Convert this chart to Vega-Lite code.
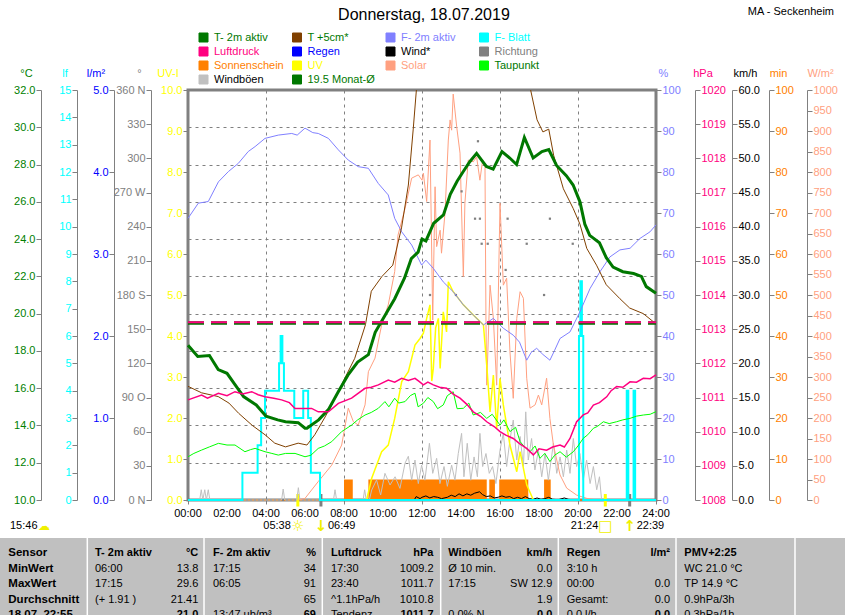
{
"$schema": "https://vega.github.io/schema/vega-lite/v6.json",
"width": 468, "height": 410,
"autosize": "none",
"padding": {"left": 188, "top": 90, "right": 189, "bottom": 115},
"background": "white",
"config": {
  "font": "Liberation Sans",
  "view": {"stroke": "#808080", "strokeWidth": 3},
  "axis": {"labelFont": "Liberation Sans", "labelFontSize": 11, "titleFont": "Liberation Sans", "titleFontSize": 11, "titleFontWeight": "normal", "domainColor": "#808080", "tickColor": "#808080", "tickSize": 5, "labelPadding": 1, "grid": false, "labelFlush": false, "labelOverlap": false, "domainWidth": 1, "tickWidth": 1},
  "axisX": {"labelOverlap": false, "labelFlush": false, "labelBound": false, "labels": false},
  "axisY": {"titleAngle": 0, "titleAlign": "center", "titleBaseline": "middle", "titleY": -17, "labelBaseline": "middle"},
  "text": {"font": "Liberation Sans"}
},
"datasets": {
  "t2m": [{"h":0,"v":18.3},{"h":0.5,"v":17.7},{"h":1.1,"v":17.75},{"h":1.55,"v":17.0},{"h":2.0,"v":16.8},{"h":2.4,"v":16.2},{"h":2.85,"v":15.55},{"h":3.5,"v":15.1},{"h":4.0,"v":14.5},{"h":4.6,"v":14.3},{"h":5.0,"v":14.2},{"h":5.65,"v":14.15},{"h":6.0,"v":13.85},{"h":6.1,"v":13.85},{"h":6.7,"v":14.3},{"h":7.2,"v":14.85},{"h":7.7,"v":15.8},{"h":8.2,"v":16.7},{"h":8.7,"v":17.4},{"h":9.25,"v":17.8},{"h":9.6,"v":19.0},{"h":10.1,"v":19.9},{"h":10.6,"v":20.8},{"h":11.1,"v":21.9},{"h":11.45,"v":22.95},{"h":11.8,"v":23.3},{"h":12.0,"v":24.0},{"h":12.2,"v":23.9},{"h":12.6,"v":24.85},{"h":13.1,"v":25.3},{"h":13.45,"v":26.4},{"h":13.8,"v":27.1},{"h":14.1,"v":27.6},{"h":14.45,"v":28.15},{"h":14.8,"v":28.6},{"h":15.3,"v":27.9},{"h":15.65,"v":27.75},{"h":16.1,"v":28.7},{"h":16.5,"v":28.35},{"h":16.85,"v":28.0},{"h":17.25,"v":29.45},{"h":17.7,"v":28.35},{"h":18.15,"v":28.7},{"h":18.5,"v":28.8},{"h":18.9,"v":27.95},{"h":19.4,"v":27.4},{"h":19.75,"v":26.9},{"h":20.1,"v":26.0},{"h":20.35,"v":24.8},{"h":20.6,"v":24.2},{"h":21.1,"v":23.8},{"h":21.45,"v":23.0},{"h":21.8,"v":22.5},{"h":22.3,"v":22.25},{"h":22.85,"v":22.15},{"h":23.25,"v":22.0},{"h":23.5,"v":21.45},{"h":24.0,"v":21.1}],
  "t5": [{"h":0,"v":16.1},{"h":0.7,"v":15.75},{"h":1.55,"v":15.55},{"h":2.1,"v":15.2},{"h":2.6,"v":14.65},{"h":3.3,"v":14.0},{"h":3.95,"v":13.5},{"h":4.45,"v":13.05},{"h":5.0,"v":12.85},{"h":5.65,"v":13.05},{"h":6.1,"v":12.95},{"h":6.5,"v":13.5},{"h":7.0,"v":14.4},{"h":7.55,"v":15.45},{"h":8.05,"v":16.55},{"h":8.55,"v":17.6},{"h":9.1,"v":19.4},{"h":9.4,"v":21.2},{"h":9.95,"v":22.0},{"h":10.5,"v":22.6},{"h":10.95,"v":24.6},{"h":11.3,"v":26.9},{"h":11.55,"v":29.9},{"h":11.75,"v":32.5},{"h":12.5,"v":36},{"h":14,"v":40},{"h":15.5,"v":40},{"h":17.0,"v":35},{"h":17.55,"v":32.1},{"h":17.9,"v":30.4},{"h":18.2,"v":29.75},{"h":18.5,"v":29.9},{"h":18.75,"v":28.5},{"h":19.25,"v":26.7},{"h":19.75,"v":25.65},{"h":20.1,"v":24.8},{"h":20.45,"v":23.5},{"h":20.95,"v":22.6},{"h":21.45,"v":21.55},{"h":22.15,"v":20.8},{"h":22.65,"v":20.3},{"h":23.35,"v":20.0},{"h":24.0,"v":19.45}],
  "dew": [{"h":0,"v":12.32},{"h":0.3,"v":12.5},{"h":0.7,"v":12.68},{"h":1.1,"v":12.85},{"h":1.56,"v":13.04},{"h":2.0,"v":12.95},{"h":2.41,"v":12.95},{"h":2.92,"v":12.59},{"h":3.2,"v":12.7},{"h":3.44,"v":12.77},{"h":3.95,"v":12.59},{"h":4.3,"v":12.5},{"h":4.63,"v":12.41},{"h":5.0,"v":12.5},{"h":5.49,"v":12.5},{"h":6.0,"v":12.32},{"h":6.3,"v":12.4},{"h":6.68,"v":12.77},{"h":7.0,"v":12.9},{"h":7.37,"v":13.13},{"h":7.88,"v":13.67},{"h":8.39,"v":14.02},{"h":8.7,"v":14.3},{"h":9.08,"v":14.56},{"h":9.4,"v":14.7},{"h":9.76,"v":14.92},{"h":10.1,"v":15.28},{"h":10.3,"v":15.0},{"h":10.6,"v":15.46},{"h":10.8,"v":15.2},{"h":11.13,"v":15.28},{"h":11.4,"v":15.6},{"h":11.64,"v":15.73},{"h":11.8,"v":15.0},{"h":12.07,"v":15.19},{"h":12.3,"v":15.5},{"h":12.58,"v":15.28},{"h":12.8,"v":14.9},{"h":13.09,"v":15.1},{"h":13.3,"v":15.6},{"h":13.6,"v":15.81},{"h":13.8,"v":14.9},{"h":14.12,"v":14.92},{"h":14.4,"v":15.2},{"h":14.63,"v":14.56},{"h":15.0,"v":14.7},{"h":15.32,"v":14.38},{"h":15.6,"v":14.6},{"h":16.0,"v":14.02},{"h":16.2,"v":14.3},{"h":16.51,"v":13.67},{"h":16.8,"v":13.9},{"h":17.03,"v":13.13},{"h":17.3,"v":12.8},{"h":17.54,"v":12.59},{"h":17.8,"v":12.9},{"h":18.05,"v":12.24},{"h":18.3,"v":12.5},{"h":18.56,"v":12.06},{"h":18.8,"v":12.4},{"h":19.08,"v":12.59},{"h":19.4,"v":12.3},{"h":19.76,"v":12.59},{"h":20.0,"v":12.9},{"h":20.27,"v":13.31},{"h":20.5,"v":13.5},{"h":20.79,"v":13.85},{"h":21.0,"v":13.95},{"h":21.3,"v":14.2},{"h":21.6,"v":14.1},{"h":21.98,"v":14.2},{"h":22.3,"v":14.3},{"h":22.67,"v":14.38},{"h":23.0,"v":14.5},{"h":23.35,"v":14.56},{"h":23.7,"v":14.6},{"h":24,"v":14.74}],
  "tavg": [{"h":0,"v":19.5},{"h":24,"v":19.5}],
  "pavg": [{"h":0,"v":1013.2},{"h":24,"v":1013.2}],
  "rain": [{"h":0,"v":0},{"h":24,"v":0}],
  "sun0": [{"h":0,"v":0},{"h":24,"v":0}],
  "hours": [{"h":0,"lab":"00:00"},{"h":2,"lab":"02:00"},{"h":4,"lab":"04:00"},{"h":6,"lab":"06:00"},{"h":8,"lab":"08:00"},{"h":10,"lab":"10:00"},{"h":12,"lab":"12:00"},{"h":14,"lab":"14:00"},{"h":16,"lab":"16:00"},{"h":18,"lab":"18:00"},{"h":20,"lab":"20:00"},{"h":22,"lab":"22:00"},{"h":24,"lab":"24:00"}],
  "rh": [{"h":0,"v":68.7},{"h":0.53,"v":72.4},{"h":1.04,"v":72.8},{"h":1.56,"v":77.6},{"h":2.07,"v":80.1},{"h":2.58,"v":82.1},{"h":3.09,"v":85},{"h":3.44,"v":86.2},{"h":3.95,"v":88.2},{"h":4.63,"v":89},{"h":5.32,"v":89.4},{"h":5.6,"v":89.0},{"h":6.0,"v":90.7},{"h":6.4,"v":89.6},{"h":6.68,"v":89.4},{"h":7.2,"v":88.2},{"h":7.71,"v":85.4},{"h":8.22,"v":82.9},{"h":8.73,"v":81.3},{"h":9.25,"v":80.9},{"h":9.76,"v":77.2},{"h":10.27,"v":74.4},{"h":10.6,"v":68.7},{"h":10.96,"v":65.4},{"h":11.47,"v":62.2},{"h":11.7,"v":60},{"h":11.98,"v":57.3},{"h":12.2,"v":58.5},{"h":12.58,"v":56.5},{"h":13.09,"v":53.2},{"h":13.6,"v":50.8},{"h":14.12,"v":47.6},{"h":14.63,"v":45.1},{"h":15.15,"v":42.7},{"h":15.66,"v":44.3},{"h":16.17,"v":41.9},{"h":16.68,"v":40.2},{"h":17.0,"v":38.5},{"h":17.37,"v":34.1},{"h":17.6,"v":36},{"h":17.88,"v":37},{"h":18.2,"v":35.5},{"h":18.56,"v":34.1},{"h":18.8,"v":36.5},{"h":19.08,"v":39.4},{"h":19.59,"v":41},{"h":20.1,"v":45.9},{"h":20.62,"v":51.6},{"h":21.13,"v":55.7},{"h":21.64,"v":59.3},{"h":22.15,"v":61},{"h":22.67,"v":61.4},{"h":23.18,"v":63.8},{"h":23.69,"v":65.4},{"h":24,"v":67.1}],
  "leaf": [{"h":0,"v":0},{"h":2.79,"v":1},{"h":3.57,"v":2},{"h":3.75,"v":3},{"h":3.95,"v":4},{"h":4.67,"v":5},{"h":4.75,"v":6},{"h":4.84,"v":5},{"h":4.92,"v":4},{"h":5.45,"v":3},{"h":5.91,"v":4},{"h":6.16,"v":3},{"h":6.3,"v":1},{"h":6.77,"v":0},{"h":20.05,"v":6},{"h":20.12,"v":8},{"h":20.2,"v":6},{"h":20.27,"v":0},{"h":22.5,"v":4},{"h":22.58,"v":0},{"h":22.85,"v":4},{"h":22.93,"v":0},{"h":24,"v":0}],
  "press": [{"h":0,"v":1010.93},{"h":0.7,"v":1011.07},{"h":1.0,"v":1010.98},{"h":1.56,"v":1011.12},{"h":2.0,"v":1011.05},{"h":2.41,"v":1011.17},{"h":2.8,"v":1011.1},{"h":3.27,"v":1011.17},{"h":3.6,"v":1011.08},{"h":3.95,"v":1011.02},{"h":4.4,"v":1010.98},{"h":4.8,"v":1010.93},{"h":5.2,"v":1010.85},{"h":5.49,"v":1010.68},{"h":6.34,"v":1010.68},{"h":6.68,"v":1010.58},{"h":7.2,"v":1010.58},{"h":7.71,"v":1010.83},{"h":8.39,"v":1010.98},{"h":9.08,"v":1011.27},{"h":9.4,"v":1011.3},{"h":9.76,"v":1011.37},{"h":10.27,"v":1011.51},{"h":10.6,"v":1011.45},{"h":10.96,"v":1011.56},{"h":11.3,"v":1011.5},{"h":11.64,"v":1011.56},{"h":11.85,"v":1011.47},{"h":12.07,"v":1011.37},{"h":12.3,"v":1011.45},{"h":12.58,"v":1011.37},{"h":12.9,"v":1011.3},{"h":13.26,"v":1011.27},{"h":13.6,"v":1011.1},{"h":13.95,"v":1010.98},{"h":14.3,"v":1010.8},{"h":14.63,"v":1010.58},{"h":15.0,"v":1010.45},{"h":15.32,"v":1010.29},{"h":15.7,"v":1010.15},{"h":16.0,"v":1010.0},{"h":16.3,"v":1009.9},{"h":16.68,"v":1009.8},{"h":17.0,"v":1009.65},{"h":17.37,"v":1009.51},{"h":17.71,"v":1009.32},{"h":18.0,"v":1009.5},{"h":18.39,"v":1009.46},{"h":18.7,"v":1009.55},{"h":19.08,"v":1009.61},{"h":19.3,"v":1009.55},{"h":19.59,"v":1009.8},{"h":19.93,"v":1010.29},{"h":20.27,"v":1010.49},{"h":20.5,"v":1010.55},{"h":20.79,"v":1010.78},{"h":21.1,"v":1010.85},{"h":21.47,"v":1011.02},{"h":21.7,"v":1011.2},{"h":21.98,"v":1011.32},{"h":22.3,"v":1011.3},{"h":22.67,"v":1011.46},{"h":23.0,"v":1011.45},{"h":23.35,"v":1011.56},{"h":23.7,"v":1011.55},{"h":24,"v":1011.66}],
  "gust": [{"h":0.6,"v":0},{"h":0.68,"v":1.5},{"h":0.76,"v":0},{"h":0.86,"v":1.5},{"h":0.94,"v":0},{"h":1.04,"v":1.5},{"h":1.12,"v":0},{"h":4.8,"v":0},{"h":4.88,"v":1.6},{"h":4.96,"v":0},{"h":5.58,"v":0},{"h":5.66,"v":1.8},{"h":5.74,"v":0},{"h":7.46,"v":0},{"h":7.54,"v":1.5},{"h":7.62,"v":0},{"h":8.98,"v":0},{"h":9.06,"v":1.5},{"h":9.14,"v":0},{"h":9.3,"v":0},{"h":9.42,"v":1.46},{"h":9.67,"v":2.93},{"h":9.88,"v":0.73},{"h":10.1,"v":3.9},{"h":10.36,"v":2.2},{"h":10.62,"v":3.4},{"h":10.87,"v":1.7},{"h":11.13,"v":5.4},{"h":11.3,"v":6.4},{"h":11.47,"v":2.9},{"h":11.64,"v":5.85},{"h":11.81,"v":2.4},{"h":11.98,"v":5.1},{"h":12.15,"v":2.9},{"h":12.38,"v":8.3},{"h":12.55,"v":3.9},{"h":12.75,"v":6.1},{"h":12.92,"v":2.4},{"h":13.13,"v":4.9},{"h":13.3,"v":2.0},{"h":13.52,"v":5.1},{"h":13.69,"v":2.9},{"h":13.86,"v":6.8},{"h":14.03,"v":9.75},{"h":14.15,"v":3.4},{"h":14.32,"v":8.3},{"h":14.5,"v":2.9},{"h":14.67,"v":6.3},{"h":14.84,"v":3.4},{"h":14.97,"v":9.75},{"h":15.11,"v":4.9},{"h":15.28,"v":6.8},{"h":15.45,"v":3.9},{"h":15.62,"v":4.9},{"h":15.79,"v":2.4},{"h":16.0,"v":7.3},{"h":16.17,"v":9.75},{"h":16.34,"v":4.9},{"h":16.51,"v":8.8},{"h":16.68,"v":11.7},{"h":16.86,"v":5.85},{"h":17.03,"v":9.3},{"h":17.2,"v":4.9},{"h":17.32,"v":12.9},{"h":17.45,"v":5.85},{"h":17.62,"v":9.0},{"h":17.79,"v":4.4},{"h":17.97,"v":7.3},{"h":18.14,"v":3.4},{"h":18.31,"v":6.8},{"h":18.48,"v":2.9},{"h":18.74,"v":8.3},{"h":18.91,"v":3.9},{"h":19.08,"v":6.3},{"h":19.25,"v":3.4},{"h":19.42,"v":7.3},{"h":19.59,"v":3.9},{"h":19.76,"v":9.0},{"h":19.93,"v":4.9},{"h":20.1,"v":6.8},{"h":20.27,"v":2.9},{"h":20.44,"v":5.85},{"h":20.62,"v":2.4},{"h":20.79,"v":4.9},{"h":20.96,"v":1.5},{"h":21.1,"v":3.4},{"h":21.21,"v":0}],
  "wind": [{"h":11.6,"v":0},{"h":11.7,"v":0.5},{"h":11.9,"v":0.2},{"h":12.0,"v":0.4},{"h":12.2,"v":0.6},{"h":12.4,"v":0.3},{"h":12.6,"v":0.5},{"h":12.8,"v":0.4},{"h":13.0,"v":0.2},{"h":13.3,"v":0.4},{"h":13.5,"v":0.7},{"h":13.7,"v":0.5},{"h":13.9,"v":0.9},{"h":14.1,"v":0.6},{"h":14.3,"v":0.9},{"h":14.5,"v":0.7},{"h":14.7,"v":1.0},{"h":14.95,"v":1.2},{"h":15.1,"v":0.8},{"h":15.3,"v":0.5},{"h":15.5,"v":0.6},{"h":15.7,"v":0.3},{"h":15.9,"v":0.4},{"h":16.1,"v":0.6},{"h":16.3,"v":0.4},{"h":16.5,"v":0.5},{"h":16.7,"v":0.2},{"h":16.9,"v":0.4},{"h":17.1,"v":0.2},{"h":17.3,"v":0.5},{"h":17.5,"v":0.2},{"h":17.7,"v":0.1},{"h":17.9,"v":0.3},{"h":18.1,"v":0.1},{"h":18.3,"v":0.2},{"h":18.5,"v":0.4},{"h":18.7,"v":0.1},{"h":19.0,"v":0.05},{"h":19.3,"v":0.3},{"h":19.5,"v":0.1},{"h":19.8,"v":0}],
  "dir": [{"h":14.87,"v":315},{"h":14.03,"v":271},{"h":14.72,"v":247},{"h":14.97,"v":247},{"h":16.39,"v":247},{"h":18.56,"v":247},{"h":15.06,"v":225},{"h":15.37,"v":225},{"h":17.37,"v":225},{"h":19.73,"v":225},{"h":16.29,"v":202},{"h":12.41,"v":180},{"h":13.74,"v":180},{"h":18.26,"v":180}],
  "uv": [{"h":9.16,"v":0},{"h":9.42,"v":0.53},{"h":9.93,"v":1.18},{"h":10.27,"v":1.34},{"h":10.6,"v":1.99},{"h":10.96,"v":2.89},{"h":11.3,"v":3.13},{"h":11.64,"v":3.78},{"h":11.9,"v":3.94},{"h":12.07,"v":4.07},{"h":12.24,"v":4.43},{"h":12.41,"v":4.76},{"h":12.5,"v":2.9},{"h":12.58,"v":3.21},{"h":12.7,"v":4.2},{"h":12.84,"v":4.43},{"h":12.93,"v":3.21},{"h":13.09,"v":4.59},{"h":13.26,"v":4.1},{"h":13.35,"v":5.32},{"h":13.6,"v":5.08},{"h":14.12,"v":4.76},{"h":14.63,"v":4.51},{"h":15.15,"v":4.27},{"h":15.32,"v":3.29},{"h":15.49,"v":2.15},{"h":15.66,"v":3.05},{"h":15.83,"v":1.75},{"h":16.0,"v":2.97},{"h":16.17,"v":2.32},{"h":16.51,"v":1.34},{"h":16.86,"v":0.69},{"h":17.03,"v":1.18},{"h":17.37,"v":0.37},{"h":17.71,"v":0}],
  "solar": [{"h":5.66,"v":0},{"h":6.0,"v":4},{"h":6.68,"v":45},{"h":7.37,"v":85},{"h":7.88,"v":134},{"h":8.22,"v":224},{"h":8.48,"v":191},{"h":8.73,"v":183},{"h":9.08,"v":232},{"h":9.25,"v":313},{"h":9.59,"v":346},{"h":9.93,"v":427},{"h":10.27,"v":476},{"h":10.6,"v":557},{"h":10.77,"v":646},{"h":11.13,"v":711},{"h":11.47,"v":785},{"h":11.81,"v":793},{"h":12.0,"v":780},{"h":12.07,"v":797},{"h":12.24,"v":728},{"h":12.41,"v":878},{"h":12.55,"v":439},{"h":12.67,"v":764},{"h":12.75,"v":618},{"h":12.93,"v":658},{"h":13.0,"v":602},{"h":13.18,"v":700},{"h":13.35,"v":878},{"h":13.44,"v":927},{"h":13.52,"v":902},{"h":13.6,"v":990},{"h":13.78,"v":910},{"h":13.95,"v":846},{"h":14.12,"v":545},{"h":14.2,"v":724},{"h":14.37,"v":829},{"h":14.63,"v":825},{"h":14.8,"v":837},{"h":14.97,"v":780},{"h":15.11,"v":829},{"h":15.23,"v":815},{"h":15.28,"v":439},{"h":15.32,"v":280},{"h":15.49,"v":524},{"h":15.66,"v":443},{"h":15.83,"v":280},{"h":16.0,"v":724},{"h":16.17,"v":524},{"h":16.34,"v":541},{"h":16.51,"v":362},{"h":16.68,"v":248},{"h":16.86,"v":443},{"h":17.03,"v":508},{"h":17.2,"v":492},{"h":17.37,"v":297},{"h":17.54,"v":224},{"h":17.8,"v":232},{"h":17.97,"v":256},{"h":18.14,"v":232},{"h":18.39,"v":297},{"h":18.56,"v":199},{"h":18.74,"v":134},{"h":19.08,"v":61},{"h":19.42,"v":29},{"h":19.93,"v":12},{"h":20.45,"v":4},{"h":20.96,"v":0}],
  "sun": [{"s":8.0,"e":8.45,"v":5},{"s":9.25,"e":15.32,"v":5},{"s":15.45,"e":15.74,"v":5},{"s":15.96,"e":17.45,"v":5},{"s":18.26,"e":18.6,"v":5}],
  "table": [
    {"r":0,"c0":"Sensor","t1":"T- 2m aktiv","t2":"°C","f1":"F- 2m aktiv","f2":"%","l1":"Luftdruck","l2":"hPa","w1":"Windböen","w2":"km/h","g1":"Regen","g2":"l/m²","p1":"PMV+2:25"},
    {"r":1,"c0":"MinWert","t1":"\u00a0\u00a006:00","t2":"13.8","f1":"\u00a0\u00a017:15","f2":"34","l1":"17:30","l2":"1009.2","w1":"Ø 10 min.","w2":"0.0","g1":"3:10 h","g2":"","p1":"WC 21.0 °C"},
    {"r":2,"c0":"MaxWert","t1":"\u00a0\u00a017:15","t2":"29.6","f1":"\u00a0\u00a006:05","f2":"91","l1":"23:40","l2":"1011.7","w1":"\u00a0\u00a017:15","w2":"SW 12.9","g1":"\u00a0\u00a000:00","g2":"0.0","p1":"TP 14.9 °C"},
    {"r":3,"c0":"Durchschnitt","t1":"\u00a0\u00a0(+ 1.91 )","t2":"21.41","f1":"","f2":"65","l1":"^1.1hPa/h","l2":"1010.8","w1":"","w2":"1.9","g1":"Gesamt:","g2":"0.0","p1":"0.9hPa/3h"},
    {"r":4,"c0":"18.07. 22:55","t1":"","t2":"21.0","f1":"\u00a0\u00a013:47 ub/m³","f2":"69","l1":"\u00a0\u00a0Tendenz","l2":"1011.7","w1":"\u00a0\u00a00.0% N","w2":"0.0","g1":"\u00a00.0 l/h","g2":"0.0","p1":"0.3hPa/1h"}
  ],
  "astro": [{"t":5.633,"lab":"05:38","sym":"☼","kind":"sun"},{"t":21.4,"lab":"21:24","sym":"□","kind":"sun"},{"t":6.817,"lab":"06:49","sym":"↓","kind":"moon"},{"t":22.65,"lab":"22:39","sym":"↑","kind":"moon"}]
},
"resolve": {"scale": {"y": "independent"}},
"layer": [
  {
    "encoding": {"y": {"field": "v", "type": "quantitative", "scale": {"domain": [0, 100], "nice": false, "zero": false}, "axis": {"orient": "right", "offset": 113, "values": [0,10,20,30,40,50,60,70,80,90,100], "labelColor": "#ff8000", "title": "min", "titleColor": "#ff8000", "titleX": 9}}},
    "layer": [
      {"data": {"name": "sun"}, "mark": {"type": "rect"},
       "encoding": {"x": {"field": "s", "type": "quantitative", "scale": {"domain": [0, 24], "nice": false, "zero": false}, "title": null, "axis": {"grid": true, "gridColor": "#808080", "gridDash": [3, 4], "gridOpacity": 1, "ticks": true, "tickSize": 4, "tickColor": "#808080", "domain": false, "labels": false, "values": [0,2,4,6,8,10,12,14,16,18,20,22,24]}}, "x2": {"field": "e"}, "y2": {"datum": 0},
         "color": {"datum": "Sonnenschein", "type": "nominal"}}},
      {"data": {"name": "sun0"}, "mark": {"type": "line", "strokeWidth": 1.5, "color": "#ff8000", "strokeDash": [2, 2]},
       "encoding": {"x": {"field": "h", "type": "quantitative", "title": null}}}
    ]
  },
  {
    "layer": [
      {"data": {"values": [{}]}, "mark": {"type": "rect", "color": "#c0c0c0"},
       "encoding": {"x": {"datum": -9.641, "type": "quantitative", "title": null}, "x2": {"datum": 33.692},
         "y": {"datum": -0.968, "type": "quantitative", "scale": {"domain": [-29.87, -3.42], "reverse": true, "nice": false, "zero": false}, "axis": null}, "y2": {"datum": 4.4}}},
      {"data": {"values": [{}]}, "mark": {"type": "rule", "color": "#ffffff", "strokeWidth": 1.5}, "encoding": {"x": {"datum": -5.164, "type": "quantitative", "title": null}, "y": {"datum": -0.968, "type": "quantitative", "axis": null}, "y2": {"datum": 4.4}}},
      {"data": {"values": [{}]}, "mark": {"type": "rule", "color": "#ffffff", "strokeWidth": 1.5}, "encoding": {"x": {"datum": 0.821, "type": "quantitative", "title": null}, "y": {"datum": -0.968, "type": "quantitative", "axis": null}, "y2": {"datum": 4.4}}},
      {"data": {"values": [{}]}, "mark": {"type": "rule", "color": "#ffffff", "strokeWidth": 1.5}, "encoding": {"x": {"datum": 6.887, "type": "quantitative", "title": null}, "y": {"datum": -0.968, "type": "quantitative", "axis": null}, "y2": {"datum": 4.4}}},
      {"data": {"values": [{}]}, "mark": {"type": "rule", "color": "#ffffff", "strokeWidth": 1.5}, "encoding": {"x": {"datum": 12.959, "type": "quantitative", "title": null}, "y": {"datum": -0.968, "type": "quantitative", "axis": null}, "y2": {"datum": 4.4}}},
      {"data": {"values": [{}]}, "mark": {"type": "rule", "color": "#ffffff", "strokeWidth": 1.5}, "encoding": {"x": {"datum": 18.99, "type": "quantitative", "title": null}, "y": {"datum": -0.968, "type": "quantitative", "axis": null}, "y2": {"datum": 4.4}}},
      {"data": {"values": [{}]}, "mark": {"type": "rule", "color": "#ffffff", "strokeWidth": 1.5}, "encoding": {"x": {"datum": 25.026, "type": "quantitative", "title": null}, "y": {"datum": -0.968, "type": "quantitative", "axis": null}, "y2": {"datum": 4.4}}},
      {"data": {"values": [{}]}, "mark": {"type": "rule", "color": "#ffffff", "strokeWidth": 1.5}, "encoding": {"x": {"datum": 31.128, "type": "quantitative", "title": null}, "y": {"datum": -0.968, "type": "quantitative", "axis": null}, "y2": {"datum": 4.4}}},
      {"data": {"name": "hours"}, "mark": {"type": "text", "align": "center", "baseline": "middle", "fontSize": 11, "color": "#000000"}, "encoding": {"x": {"field": "h", "type": "quantitative", "title": null}, "y": {"datum": -2.548, "type": "quantitative", "axis": null}, "text": {"field": "lab"}}},
      {"data": {"name": "table"}, "mark": {"type": "text", "align": "left", "baseline": "middle", "fontSize": 11.5, "fontWeight": "bold", "color": "#000000"}, "encoding": {"x": {"datum": -9.215, "type": "quantitative", "title": null}, "y": {"field": "r", "type": "quantitative", "axis": null}, "text": {"field": "c0"}}},
      {"data": {"name": "table"}, "mark": {"type": "text", "align": "left", "baseline": "middle", "fontSize": 11, "fontWeight": {"expr": "datum.r == 0 ? 'bold' : 'normal'"}, "color": "#000000"}, "encoding": {"x": {"datum": -4.769, "type": "quantitative", "title": null}, "y": {"field": "r", "type": "quantitative", "axis": null}, "text": {"field": "t1"}}},
      {"data": {"name": "table"}, "mark": {"type": "text", "align": "right", "baseline": "middle", "fontSize": 11, "fontWeight": {"expr": "datum.r == 0 || datum.r == 4 ? 'bold' : 'normal'"}, "color": "#000000"}, "encoding": {"x": {"datum": 0.528, "type": "quantitative", "title": null}, "y": {"field": "r", "type": "quantitative", "axis": null}, "text": {"field": "t2"}}},
      {"data": {"name": "table"}, "mark": {"type": "text", "align": "left", "baseline": "middle", "fontSize": 11, "fontWeight": {"expr": "datum.r == 0 ? 'bold' : 'normal'"}, "color": "#000000"}, "encoding": {"x": {"datum": 1.282, "type": "quantitative", "title": null}, "y": {"field": "r", "type": "quantitative", "axis": null}, "text": {"field": "f1"}}},
      {"data": {"name": "table"}, "mark": {"type": "text", "align": "right", "baseline": "middle", "fontSize": 11, "fontWeight": {"expr": "datum.r == 0 || datum.r == 4 ? 'bold' : 'normal'"}, "color": "#000000"}, "encoding": {"x": {"datum": 6.564, "type": "quantitative", "title": null}, "y": {"field": "r", "type": "quantitative", "axis": null}, "text": {"field": "f2"}}},
      {"data": {"name": "table"}, "mark": {"type": "text", "align": "left", "baseline": "middle", "fontSize": 11, "fontWeight": {"expr": "datum.r == 0 ? 'bold' : 'normal'"}, "color": "#000000"}, "encoding": {"x": {"datum": 7.333, "type": "quantitative", "title": null}, "y": {"field": "r", "type": "quantitative", "axis": null}, "text": {"field": "l1"}}},
      {"data": {"name": "table"}, "mark": {"type": "text", "align": "right", "baseline": "middle", "fontSize": 11, "fontWeight": {"expr": "datum.r == 0 || datum.r == 4 ? 'bold' : 'normal'"}, "color": "#000000"}, "encoding": {"x": {"datum": 12.59, "type": "quantitative", "title": null}, "y": {"field": "r", "type": "quantitative", "axis": null}, "text": {"field": "l2"}}},
      {"data": {"name": "table"}, "mark": {"type": "text", "align": "left", "baseline": "middle", "fontSize": 11, "fontWeight": {"expr": "datum.r == 0 ? 'bold' : 'normal'"}, "color": "#000000"}, "encoding": {"x": {"datum": 13.349, "type": "quantitative", "title": null}, "y": {"field": "r", "type": "quantitative", "axis": null}, "text": {"field": "w1"}}},
      {"data": {"name": "table"}, "mark": {"type": "text", "align": "right", "baseline": "middle", "fontSize": 11, "fontWeight": {"expr": "datum.r == 0 || datum.r == 4 ? 'bold' : 'normal'"}, "color": "#000000"}, "encoding": {"x": {"datum": 18.682, "type": "quantitative", "title": null}, "y": {"field": "r", "type": "quantitative", "axis": null}, "text": {"field": "w2"}}},
      {"data": {"name": "table"}, "mark": {"type": "text", "align": "left", "baseline": "middle", "fontSize": 11, "fontWeight": {"expr": "datum.r == 0 ? 'bold' : 'normal'"}, "color": "#000000"}, "encoding": {"x": {"datum": 19.421, "type": "quantitative", "title": null}, "y": {"field": "r", "type": "quantitative", "axis": null}, "text": {"field": "g1"}}},
      {"data": {"name": "table"}, "mark": {"type": "text", "align": "right", "baseline": "middle", "fontSize": 11, "fontWeight": {"expr": "datum.r == 0 || datum.r == 4 ? 'bold' : 'normal'"}, "color": "#000000"}, "encoding": {"x": {"datum": 24.718, "type": "quantitative", "title": null}, "y": {"field": "r", "type": "quantitative", "axis": null}, "text": {"field": "g2"}}},
      {"data": {"name": "table"}, "mark": {"type": "text", "align": "left", "baseline": "middle", "fontSize": 11, "fontWeight": {"expr": "datum.r == 0 ? 'bold' : 'normal'"}, "color": "#000000"}, "encoding": {"x": {"datum": 25.451, "type": "quantitative", "title": null}, "y": {"field": "r", "type": "quantitative", "axis": null}, "text": {"field": "p1"}}},
      {"data": {"name": "astro"}, "transform": [{"filter": "datum.kind == 'sun'"}], "mark": {"type": "rule", "color": "#ffff00", "strokeWidth": 3}, "encoding": {"x": {"field": "t", "type": "quantitative", "title": null}, "y": {"datum": -3.806, "type": "quantitative", "axis": null}, "y2": {"datum": -3.0}}},
      {"data": {"name": "astro"}, "transform": [{"filter": "datum.kind == 'moon'"}], "mark": {"type": "rule", "color": "#808080", "strokeWidth": 3}, "encoding": {"x": {"field": "t", "type": "quantitative", "title": null}, "y": {"datum": -3.806, "type": "quantitative", "axis": null}, "y2": {"datum": -3.0}}},
      {"data": {"name": "astro"}, "transform": [{"filter": "datum.kind == 'sun'"}], "mark": {"type": "text", "align": "right", "baseline": "middle", "dx": -7, "fontSize": 11, "color": "#000000"}, "encoding": {"x": {"field": "t", "type": "quantitative", "title": null}, "y": {"datum": -1.774, "type": "quantitative", "axis": null}, "text": {"field": "lab"}}},
      {"data": {"name": "astro"}, "transform": [{"filter": "datum.kind == 'moon'"}], "mark": {"type": "text", "align": "left", "baseline": "middle", "dx": 7, "fontSize": 11, "color": "#000000"}, "encoding": {"x": {"field": "t", "type": "quantitative", "title": null}, "y": {"datum": -1.774, "type": "quantitative", "axis": null}, "text": {"field": "lab"}}},
      {"data": {"name": "astro"}, "mark": {"type": "text", "align": "center", "baseline": "middle", "fontSize": 15, "fontWeight": "bold", "color": "#f0f000", "font": "DejaVu Sans"}, "encoding": {"x": {"field": "t", "type": "quantitative", "title": null}, "y": {"datum": -1.774, "type": "quantitative", "axis": null}, "text": {"field": "sym"}}},
      {"data": {"values": [{}]}, "mark": {"type": "text", "align": "left", "baseline": "middle", "fontSize": 11, "color": "#000000", "text": "15:46"}, "encoding": {"x": {"datum": -9.128, "type": "quantitative", "title": null}, "y": {"datum": -1.774, "type": "quantitative", "axis": null}}},
      {"data": {"values": [{}]}, "mark": {"type": "text", "align": "center", "baseline": "middle", "fontSize": 12, "color": "#f0f000", "font": "DejaVu Sans", "text": "☁"}, "encoding": {"x": {"datum": -7.38, "type": "quantitative", "title": null}, "y": {"datum": -1.774, "type": "quantitative", "axis": null}}},
      {"data": {"values": [{}]}, "mark": {"type": "text", "align": "center", "baseline": "middle", "fontSize": 16, "color": "#000000", "text": "Donnerstag, 18.07.2019"}, "encoding": {"x": {"datum": 12.1, "type": "quantitative", "title": null}, "y": {"datum": -34.71, "type": "quantitative", "axis": null}}},
      {"data": {"values": [{}]}, "mark": {"type": "text", "align": "right", "baseline": "middle", "fontSize": 11, "color": "#000000", "text": "MA - Seckenheim"}, "encoding": {"x": {"datum": 33.13, "type": "quantitative", "title": null}, "y": {"datum": -34.9, "type": "quantitative", "axis": null}}}
    ]
  },
  {
    "encoding": {"x": {"field": "h", "type": "quantitative", "title": null},
      "y": {"field": "v", "type": "quantitative", "scale": {"domain": [0, 60], "nice": false, "zero": false}, "axis": {"orient": "right", "offset": 76, "values": [0,5,10,15,20,25,30,35,40,45,50,55,60], "format": ".1f", "labelColor": "#000000", "title": "km/h", "titleColor": "#000000", "titleX": 13}}},
    "layer": [
      {"data": {"name": "gust"}, "mark": {"type": "line", "strokeWidth": 1}, "encoding": {"color": {"datum": "Windböen", "type": "nominal"}}},
      {"data": {"name": "wind"}, "mark": {"type": "line", "strokeWidth": 1}, "encoding": {"color": {"datum": "Wind*", "type": "nominal"}}}
    ]
  },
  {
    "encoding": {"x": {"field": "h", "type": "quantitative", "title": null},
      "y": {"field": "v", "type": "quantitative", "scale": {"domain": [0, 1000], "nice": false, "zero": false}, "axis": {"orient": "right", "offset": 151, "values": [0,50,100,150,200,250,300,350,400,450,500,550,600,650,700,750,800,850,900,950,1000], "format": "d", "labelColor": "#ffa080", "title": "W/m²", "titleColor": "#ffa080", "titleX": 13}}},
    "layer": [
      {"data": {"name": "solar"}, "mark": {"type": "line", "strokeWidth": 1}, "encoding": {"color": {"datum": "Solar", "type": "nominal"}}}
    ]
  },
  {
    "encoding": {"x": {"field": "h", "type": "quantitative", "title": null},
      "y": {"field": "v", "type": "quantitative", "scale": {"domain": [0, 10], "nice": false, "zero": false}, "axis": {"orient": "left", "offset": 0, "values": [0,1,2,3,4,5,6,7,8,9,10], "format": ".1f", "labelColor": "#ffff00", "title": "UV-I", "titleColor": "#ffff00", "titleX": -20.5}}},
    "layer": [
      {"data": {"name": "uv"}, "mark": {"type": "line", "strokeWidth": 1.5}, "encoding": {"color": {"datum": "UV", "type": "nominal"}}}
    ]
  },
  {
    "encoding": {"x": {"field": "h", "type": "quantitative", "title": null},
      "y": {"field": "v", "type": "quantitative", "scale": {"domain": [0, 15], "nice": false, "zero": false}, "axis": {"orient": "left", "offset": 111, "values": [0,1,2,3,4,5,6,7,8,9,10,11,12,13,14,15], "labelColor": "#00ffff", "title": "lf", "titleColor": "#00ffff", "titleX": -12.5}}},
    "layer": [
      {"data": {"name": "leaf"}, "mark": {"type": "line", "strokeWidth": 2, "interpolate": "step-after"}, "encoding": {"color": {"datum": "F- Blatt", "type": "nominal"}}}
    ]
  },
  {
    "encoding": {"x": {"field": "h", "type": "quantitative", "title": null},
      "y": {"field": "v", "type": "quantitative", "scale": {"domain": [0, 5], "nice": false, "zero": false}, "axis": {"orient": "left", "offset": 74, "values": [0,1,2,3,4,5], "format": ".1f", "labelColor": "#0000ff", "title": "l/m²", "titleColor": "#0000ff", "titleX": -18.5}}},
    "layer": [
      {"data": {"name": "rain"}, "mark": {"type": "line", "strokeWidth": 1, "strokeOpacity": 0}, "encoding": {"color": {"datum": "Regen", "type": "nominal"}}}
    ]
  },
  {
    "encoding": {"x": {"field": "h", "type": "quantitative", "title": null},
      "y": {"field": "v", "type": "quantitative", "scale": {"domain": [0, 360], "nice": false, "zero": false}, "axis": {"orient": "left", "offset": 37, "values": [0,30,60,90,120,150,180,210,240,270,300,330,360], "labelExpr": "datum.value == 360 ? '360 N' : datum.value == 270 ? '270 W' : datum.value == 180 ? '180 S' : datum.value == 90 ? '90  O' : datum.value == 0 ? '0    N' : datum.label", "labelColor": "#808080", "title": "°", "titleColor": "#808080", "titleX": -12}}},
    "layer": [
      {"data": {"name": "dir"}, "mark": {"type": "square", "size": 5, "opacity": 1}, "encoding": {"color": {"datum": "Richtung", "type": "nominal"}}}
    ]
  },
  {
    "encoding": {"x": {"field": "h", "type": "quantitative", "title": null},
      "y": {"field": "v", "type": "quantitative", "scale": {"domain": [0, 100], "nice": false, "zero": false}, "axis": {"orient": "right", "offset": 0, "values": [0,10,20,30,40,50,60,70,80,90,100], "labelColor": "#8080ff", "title": "%", "titleColor": "#8080ff", "titleX": 7}}},
    "layer": [
      {"data": {"name": "rh"}, "mark": {"type": "line", "strokeWidth": 1}, "encoding": {"color": {"datum": "F- 2m aktiv", "type": "nominal"}}}
    ]
  },
  {
    "encoding": {"x": {"field": "h", "type": "quantitative", "title": null},
      "y": {"field": "v", "type": "quantitative", "scale": {"domain": [10, 32], "nice": false, "zero": false}, "axis": {"orient": "left", "offset": 147, "values": [10,12,14,16,18,20,22,24,26,28,30,32], "format": ".1f", "labelColor": "#008000", "title": "°C", "titleColor": "#008000", "titleX": -15, "grid": true, "gridColor": "#808080", "gridDash": [3, 4], "gridOpacity": 1}}},
    "layer": [
      {"data": {"name": "dew"}, "mark": {"type": "line", "strokeWidth": 1}, "encoding": {"color": {"datum": "Taupunkt", "type": "nominal"}}},
      {"data": {"name": "t5"}, "mark": {"type": "line", "strokeWidth": 1, "clip": true}, "encoding": {"color": {"datum": "T +5cm*", "type": "nominal"}}},
      {"data": {"name": "tavg"}, "mark": {"type": "line", "strokeWidth": 3.5, "color": "#007000", "strokeDash": [16, 7]}, "encoding": {}},
      {"data": {"name": "t2m"}, "mark": {"type": "line", "strokeWidth": 3}, "encoding": {"color": {"datum": "T- 2m aktiv", "type": "nominal",
        "scale": {"domain": ["T- 2m aktiv","T +5cm*","F- 2m aktiv","F- Blatt","Luftdruck","Regen","Wind*","Richtung","Sonnenschein","UV","Solar","Taupunkt","Windböen","19.5 Monat-Ø"],
                  "range": ["#007800","#804000","#8080ff","#00ffff","#ff0080","#0000ff","#000000","#808080","#ff8000","#ffff00","#ffa080","#00ff00","#c0c0c0","#007800"]},
        "legend": {"orient": "none", "direction": "horizontal", "legendX": 10, "legendY": -58, "columns": 4, "title": null, "symbolType": "square", "symbolSize": 81, "labelFont": "Liberation Sans", "labelFontSize": 11, "labelOffset": 5, "columnPadding": 6.5, "rowPadding": 1, "gridAlign": "all", "padding": 0, "labelLimit": 300,
          "encode": {
            "symbols": {"update": {"shape": {"value": "square"}, "size": {"value": 81}, "strokeWidth": {"value": 1}, "opacity": {"value": 1}, "fillOpacity": {"value": 1}, "strokeOpacity": {"value": 1},
              "fill": {"signal": "['#007800','#804000','#8080ff','#00ffff','#ff0080','#0000ff','#000000','#808080','#ff8000','#ffff00','#ffa080','#00ff00','#c0c0c0','#ffffff'][indexof(['T- 2m aktiv','T +5cm*','F- 2m aktiv','F- Blatt','Luftdruck','Regen','Wind*','Richtung','Sonnenschein','UV','Solar','Taupunkt','Windböen','19.5 Monat-Ø'], datum.value)]"},
              "stroke": {"signal": "datum.value == '19.5 Monat-Ø' ? '#007800' : '#000000'"}}},
            "labels": {"update": {"fill": {"signal": "['#007800','#007800','#8080ff','#00ffff','#ff0080','#0000ff','#000000','#808080','#ff8000','#ffff00','#ffa080','#007800','#000000','#007800'][indexof(['T- 2m aktiv','T +5cm*','F- 2m aktiv','F- Blatt','Luftdruck','Regen','Wind*','Richtung','Sonnenschein','UV','Solar','Taupunkt','Windböen','19.5 Monat-Ø'], datum.value)]"}}}
          }}}}}
    ]
  },
  {
    "encoding": {"x": {"field": "h", "type": "quantitative", "title": null},
      "y": {"field": "v", "type": "quantitative", "scale": {"domain": [1008, 1020], "nice": false, "zero": false}, "axis": {"orient": "right", "offset": 39, "values": [1008,1009,1010,1011,1012,1013,1014,1015,1016,1017,1018,1019,1020], "format": "d", "labelColor": "#ff0080", "title": "hPa", "titleColor": "#ff0080", "titleX": 7.5}}},
    "layer": [
      {"data": {"name": "press"}, "mark": {"type": "line", "strokeWidth": 1.5}, "encoding": {"color": {"datum": "Luftdruck", "type": "nominal"}}},
      {"data": {"name": "pavg"}, "mark": {"type": "line", "strokeWidth": 2, "color": "#ff0080", "strokeDash": [16, 7]}, "encoding": {}}
    ]
  }
]
}
